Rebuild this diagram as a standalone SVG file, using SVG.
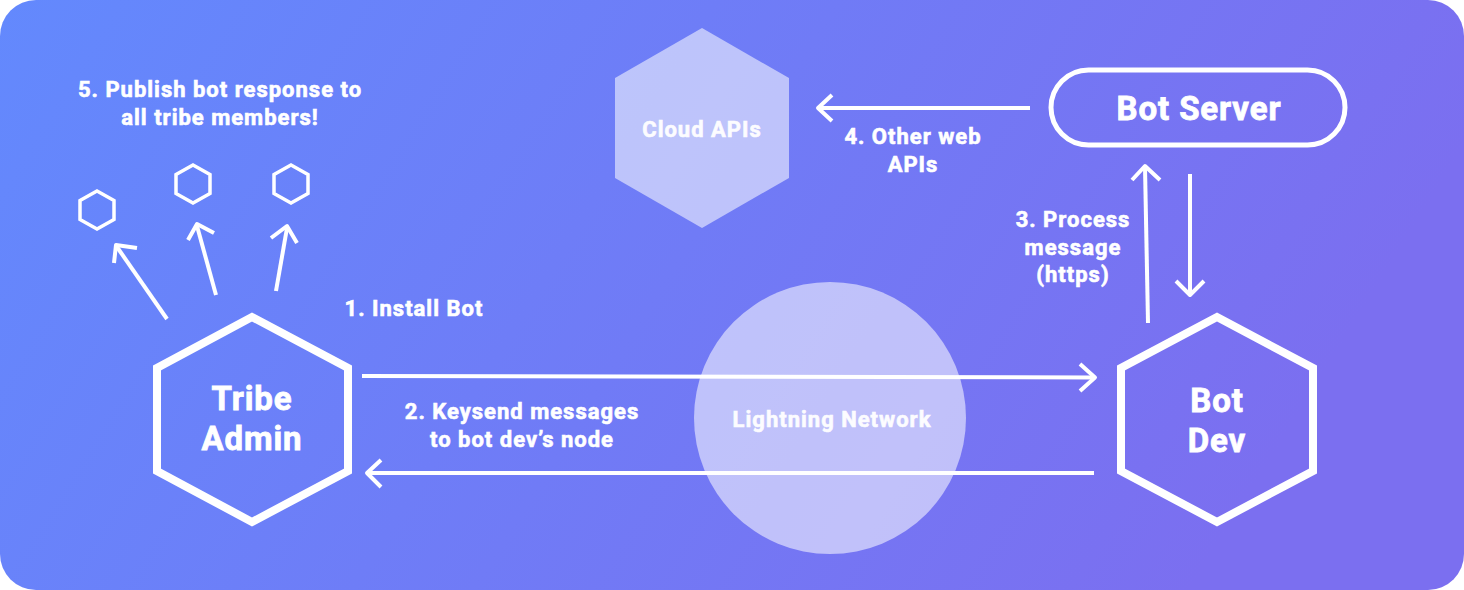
<svg xmlns="http://www.w3.org/2000/svg" width="1464" height="590" viewBox="0 0 1464 590">
<defs>
<linearGradient id="bg" x1="0" y1="0" x2="1" y2="0.25">
<stop offset="0" stop-color="#6389FD"/>
<stop offset="1" stop-color="#7B6FF0"/>
</linearGradient>
<style>
.t{font-family:Roboto,"Liberation Sans",sans-serif;font-weight:700;fill:#fff;stroke:#fff;stroke-width:0.6;text-anchor:middle}
.s{font-size:22px;letter-spacing:1px}
.b{font-size:33px;letter-spacing:0.9px;stroke-width:0.8}
.lt{fill:#FCFCFF;stroke:#FCFCFF}
.hx{fill:none;stroke:#fff;stroke-width:8;stroke-linejoin:miter}
.sh{fill:none;stroke:#fff;stroke-width:3.5}
.ln{fill:none;stroke:#fff;stroke-width:4;stroke-linecap:butt;stroke-linejoin:round}
.soft{fill:#fff;fill-opacity:0.55}
</style>
</defs>
<rect x="0" y="0" width="1464" height="590" rx="36" fill="url(#bg)"/>

<g id="lightning-network">
<circle class="soft" cx="830" cy="418" r="136"/>
<text class="t s lt" x="832" y="427">Lightning Network</text>
</g>

<g id="cloud-apis">
<polygon class="soft" points="702,28 789,78 789,178 702,228 615,178 615,78"/>
<text class="t s lt" x="702" y="137">Cloud APIs</text>
</g>

<g id="bot-server">
<rect x="1051" y="70" width="294" height="75" rx="37.5" fill="none" stroke="#fff" stroke-width="5"/>
<text class="t b" x="1199" y="120">Bot Server</text>
</g>

<g id="tribe-admin">
<polygon class="hx" points="252,317 348,368 348,471 252,522 157,471 157,368"/>
<text class="t b" x="252" y="410">Tribe</text>
<text class="t b" x="252" y="450">Admin</text>
</g>

<g id="bot-dev">
<polygon class="hx" points="1217,317 1313,368 1313,471 1217,522 1121,471 1121,368"/>
<text class="t b" x="1217" y="412">Bot</text>
<text class="t b" x="1217" y="452">Dev</text>
</g>

<g id="members">
<polygon class="sh" points="97,191 114,200.5 114,219.5 97,229 80,219.5 80,200.5"/>
<polygon class="sh" points="193,165 210,174.5 210,193.5 193,203 176,193.5 176,174.5"/>
<polygon class="sh" points="291,165 308,174.5 308,193.5 291,203 274,193.5 274,174.5"/>
</g>

<g id="connectors">
<line class="ln" x1="362" y1="376" x2="1094" y2="377.5"/>
<polyline class="ln" points="1080,364 1095,377.5 1080,391"/>
<line class="ln" x1="1094" y1="473" x2="368" y2="473"/>
<polyline class="ln" points="381,460 367,473 381,487"/>
<line class="ln" x1="1148" y1="323" x2="1145" y2="167"/>
<polyline class="ln" points="1132,180 1145,166 1160,180"/>
<line class="ln" x1="1190" y1="174" x2="1190" y2="294"/>
<polyline class="ln" points="1176,281 1190,295 1204,281"/>
<line class="ln" x1="1030" y1="108" x2="818" y2="108"/>
<polyline class="ln" points="832,95 818,108 832,121"/>
<line class="ln" x1="167" y1="319" x2="117" y2="247"/>
<polyline class="ln" points="114,263 116,245 137,248"/>
<line class="ln" x1="216" y1="295" x2="197" y2="226"/>
<polyline class="ln" points="188,240 197,224 214,233"/>
<line class="ln" x1="276" y1="291" x2="287" y2="228"/>
<polyline class="ln" points="271,238 287,226 297,243"/>
</g>

<g id="labels">
<text class="t s" x="220" y="97">5. Publish bot response to</text>
<text class="t s" x="220" y="125">all tribe members!</text>
<text class="t s" x="414" y="316">1. Install Bot</text>
<text class="t s" x="522" y="419">2. Keysend messages</text>
<text class="t s" x="522" y="447">to bot dev’s node</text>
<text class="t s" x="1073" y="227">3. Process</text>
<text class="t s" x="1073" y="255">message</text>
<text class="t s" x="1073" y="282">(https)</text>
<text class="t s" x="913" y="144">4. Other web</text>
<text class="t s" x="913" y="172">APIs</text>
</g>
</svg>
